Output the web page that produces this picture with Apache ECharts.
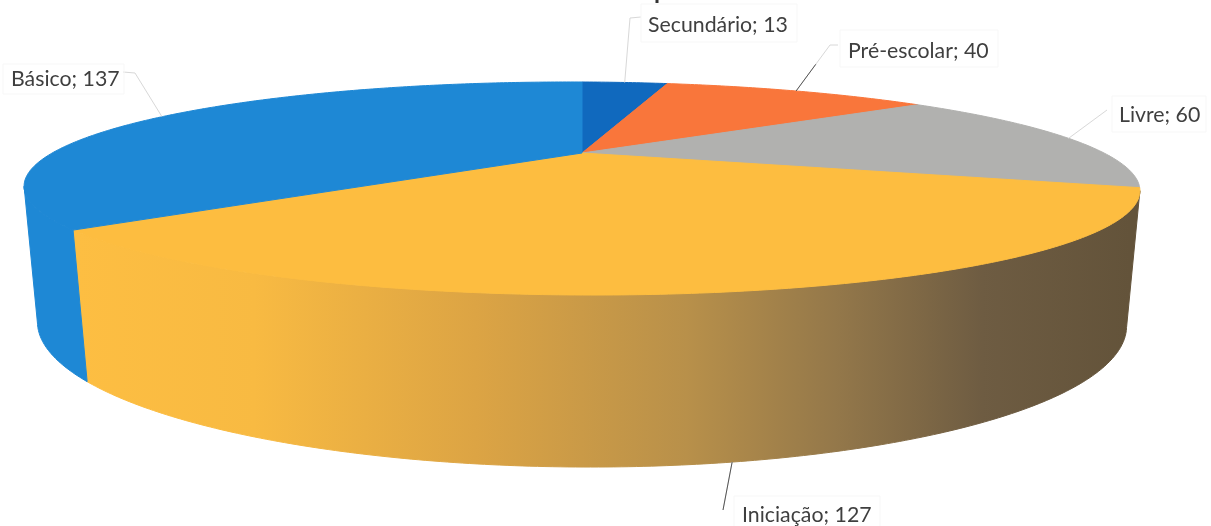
<!DOCTYPE html>
<html><head><meta charset="utf-8">
<style>html,body{margin:0;padding:0;background:#fff}#c{width:1211px;height:526px}</style>
<script src="https://cdn.jsdelivr.net/npm/echarts@6/dist/echarts.min.js"></script>
</head><body><div id="c"></div>
<script>
// Data
const categories = ['Secundário', 'Pré-escolar', 'Livre', 'Iniciação', 'Básico'];
const values = [13, 40, 60, 127, 137];

// Styles
const topColors = ['#1069BE', '#F9763B', '#B1B1AF', '#FDBD40', '#1E88D5'];
const wallColors = ['#1069BE', '#F9763B', '#B1B1AF', null, '#1E88D5'];
const wallGradientStops = [
  [0, '#FDBE42'], [0.17, '#F8BA42'], [0.38, '#DCA444'], [0.58, '#B8904A'],
  [0.72, '#94784A'], [0.86, '#6E5C42'], [1, '#63533A']
];

// Projection of the top and bottom discs (perspective)
const cx = 582;
const shear = 0.004;
const topDisc = {cy: 153, A: 526, B: 94.67, k: 1 / 3};
const botDisc = {cy: 277.4, A: 515, B: 128, k: 0.325};

// Label layout
const labelBoxes = [
  {tx: 648, ty: 25, box: [641, 4, 156, 38], elbow: [[630, 18], [641, 17]], ink: 0},
  {tx: 848, ty: 51, box: [840, 30, 158, 37], elbow: [[830, 45], [838, 45]], ink: 0.58},
  {tx: 1119, ty: 115, box: [1112, 96, 94, 36], elbow: [[1107, 110]], ink: 0},
  {tx: 742, ty: 515, box: [734, 496, 146, 32], elbow: [[723, 510]], ink: 1},
  {tx: 11, ty: 79, box: [3, 64, 121, 30], elbow: [[135, 73], [123, 72]], ink: 0}
];
const labelFont = 'Lato, "Open Sans", sans-serif';

const total = values.reduce((a, b) => a + b, 0);
const toRad = v => v / total * Math.PI * 2;
function project(d, t) {
  const u = Math.sin(t), v = Math.cos(t), w = 1 + d.k * v;
  const dx = d.A * u / w;
  return [cx + dx, d.cy - d.B * v / w + dx * shear];
}
function arc(d, a, b) {
  const n = Math.max(2, Math.ceil(Math.abs(b - a) / 0.01)), out = [];
  for (let i = 0; i <= n; i++) out.push(project(d, a + (b - a) * i / n));
  return out;
}
const tWallStart = Math.PI - Math.acos(1 / 3);
const tWallEnd = Math.PI + Math.acos(1 / 3);

function renderItem(params, api) {
  const i = api.value(0), val = api.value(1);
  let cum = 0;
  for (let j = 0; j < i; j++) cum += values[j];
  const a = toRad(cum), b = toRad(cum + val), mid = (a + b) / 2;
  const children = [];
  // Side wall
  const wa = Math.max(a, tWallStart), wb = Math.min(b, tWallEnd);
  if (wb > wa) {
    const wfill = wallColors[i] || {type: 'linear', global: true, x: 75, y: 0, x2: 1130, y2: 0,
      colorStops: wallGradientStops.map(s => ({offset: s[0], color: s[1]}))};
    children.push({type: 'polygon', silent: true,
      shape: {points: [...arc(topDisc, wa, wb), ...arc(botDisc, wb, wa)]},
      style: {fill: wfill, stroke: wfill, lineWidth: 1}});
  }
  // Top face
  const fill = topColors[i];
  children.push({type: 'polygon', silent: true,
    shape: {points: [[cx, topDisc.cy], ...arc(topDisc, a, b)]},
    style: {fill, stroke: fill, lineWidth: 1, lineJoin: 'round'}});
  // Leader
  const L = labelBoxes[i];
  const onFront = mid > tWallStart && mid < tWallEnd;
  const anchor = project(onFront ? botDisc : topDisc, mid);
  const pts = [anchor, ...L.elbow];
  children.push({type: 'polyline', silent: true, shape: {points: pts},
    style: {fill: 'none', stroke: '#D8D8D8', lineWidth: 1}});
  if (L.ink > 0) {
    const e = L.elbow[0];
    children.push({type: 'line', silent: true,
      shape: {x1: anchor[0], y1: anchor[1],
        x2: anchor[0] + (e[0] - anchor[0]) * L.ink, y2: anchor[1] + (e[1] - anchor[1]) * L.ink},
      style: {stroke: '#555', lineWidth: 1}});
  }
  // Label box and text
  children.push({type: 'rect', silent: true,
    shape: {x: L.box[0], y: L.box[1], width: L.box[2], height: L.box[3]},
    style: {fill: 'none', stroke: '#F7F7F7', lineWidth: 1}});
  children.push({type: 'text', silent: true,
    style: {x: L.tx, y: L.ty, text: categories[i] + '; ' + val, fill: '#3F3F3F',
      font: '21.3px ' + labelFont, textAlign: 'left', textVerticalAlign: 'middle'}});
  return {type: 'group', children};
}

const chart = echarts.init(document.getElementById('c'), null, {renderer: 'canvas'});
chart.setOption({
  animation: false,
  backgroundColor: '#fff',
  series: [{
    type: 'custom',
    coordinateSystem: 'none',
    renderItem,
    data: values.map((v, i) => [i, v]),
    silent: true
  }],
  graphic: [{type: 'line', silent: true, shape: {x1: 657, y1: 0, x2: 657, y2: 3},
    style: {stroke: '#333', lineWidth: 3}}]
});
</script></body></html>
